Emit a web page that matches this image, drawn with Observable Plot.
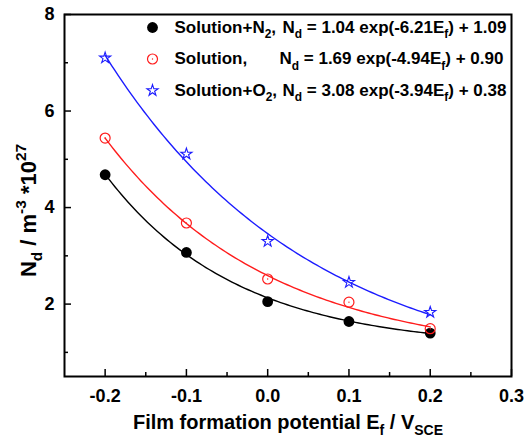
<!DOCTYPE html>
<html>
<head>
<meta charset="utf-8">
<script src="https://cdn.jsdelivr.net/npm/d3@7"></script>
<script src="https://cdn.jsdelivr.net/npm/@observablehq/plot@0.6"></script>
<style>
  html, body { margin: 0; padding: 0; background: #fff; }
  #chart { width: 528px; height: 441px; }
</style>
</head>
<body>
<div id="chart"></div>
<script>
// Film formation potential (V vs SCE) and donor density (×10^27 m^-3)
const potentials = [-0.2, -0.1, 0.0, 0.1, 0.2];
const ndN2 = [4.68, 3.07, 2.05, 1.64, 1.40];
const ndSolution = [5.44, 3.68, 2.52, 2.04, 1.49];
const ndO2 = [7.10, 5.11, 3.30, 2.45, 1.83];

// Exponential fits: Nd = a·exp(b·Ef) + c
const seriesNames = ["Solution+N_{2},", "Solution,", "Solution+O_{2},"];
const fitA = [1.04, 1.69, 3.08];
const fitB = [-6.21, -4.94, -3.94];
const fitC = [1.09, 0.90, 0.38];

const xTicks = [-0.2, -0.1, 0.0, 0.1, 0.2, 0.3];
const xMinorTicks = [-0.15, -0.05, 0.05, 0.15, 0.25];
const yTicks = [2, 4, 6, 8];
const yMinorTicks = [1, 3, 5, 7];

const W = 528, H = 441;
const margin = {top: 14, right: 17, bottom: 65, left: 64};
const plotW = W - margin.left - margin.right;
const plotH = H - margin.top - margin.bottom;
const font = "'Liberation Sans', Arial, Helvetica, sans-serif";

const colors = ["#000000", "#ff1c1c", "#1c1cff"];
const values = [ndN2, ndSolution, ndO2];

const points = values.map((vals, k) => potentials.map((e, i) => ({s: k, e, nd: vals[i]})));
const fits = fitA.map((a, k) =>
  d3.range(-0.2, 0.2 + 1e-9, 0.004).map(e => ({s: k, e, nd: a * Math.exp(fitB[k] * e) + fitC[k]}))
);
const equations = fitA.map((a, k) =>
  `N_{d} = ${a.toFixed(2)} exp(${fitB[k].toFixed(2)}E_{f}) + ${fitC[k].toFixed(2)}`
);

function markerOptions(k) {
  if (k === 0) return {symbol: "circle", r: 5.4, fill: colors[k], stroke: "none"};
  if (k === 1) return {symbol: "circle", r: 5, fill: "none", stroke: colors[k], strokeWidth: 1.2};
  return {symbol: "star", r: 3.5, fill: "none", stroke: colors[k], strokeWidth: 1.1};
}

const marks = [];
// inward tick marks
marks.push(Plot.ruleX(xTicks, {stroke: "#000", strokeWidth: 1.5, insetTop: plotH - 7}));
marks.push(Plot.ruleX(xMinorTicks, {stroke: "#000", strokeWidth: 1.5, insetTop: plotH - 4}));
marks.push(Plot.ruleY(yTicks, {stroke: "#000", strokeWidth: 1.5, insetRight: plotW - 7}));
marks.push(Plot.ruleY(yMinorTicks, {stroke: "#000", strokeWidth: 1.5, insetRight: plotW - 4}));

// fitted curves, then measured points
fits.forEach((f, k) => marks.push(Plot.line(f, {x: "e", y: "nd", stroke: colors[k], strokeWidth: 1.4})));
points.forEach((p, k) => {
  marks.push(Plot.dot(p, {x: "e", y: "nd", ...markerOptions(k)}));
  if (k === 1) marks.push(Plot.dot(p, {x: "e", y: "nd", r: 0.7, fill: colors[k]}));
});

// legend
seriesNames.forEach((name, k) => {
  const dy = 13 + k * 31.5;
  marks.push(Plot.dot([name], {frameAnchor: "top-left", dx: 88, dy, ...markerOptions(k)}));
  if (k === 1) marks.push(Plot.dot([name], {frameAnchor: "top-left", dx: 88, dy, r: 0.7, fill: colors[k]}));
  marks.push(Plot.text([name], {text: d => d, frameAnchor: "top-left", dx: 110, dy, textAnchor: "start",
    lineAnchor: "middle", fontSize: 17, fill: "#000"}));
  marks.push(Plot.text([equations[k]], {text: d => d, frameAnchor: "top-left", dx: k === 1 ? 215 : 218, dy,
    textAnchor: "start", lineAnchor: "middle", fontSize: 17, fill: "#000"}));
});

// axis titles
marks.push(Plot.text(["Film formation potential E_{f} / V_{SCE}"], {text: d => d, frameAnchor: "bottom",
  textAnchor: "middle", lineAnchor: "bottom", dy: 52, fontSize: 20, fill: "#000"}));
marks.push(Plot.text(["N_{d} / m^{-3} *10^{27}"], {text: d => d, frameAnchor: "left", rotate: -90,
  textAnchor: "middle", lineAnchor: "bottom", dx: -29, dy: 15, fontSize: 22, fill: "#000"}));

marks.push(Plot.frame({stroke: "#000", strokeWidth: 2}));

const chart = Plot.plot({
  width: W,
  height: H,
  marginTop: margin.top,
  marginRight: margin.right,
  marginBottom: margin.bottom,
  marginLeft: margin.left,
  style: {fontFamily: font, fontWeight: "bold", fontSize: "18px", color: "#000", background: "#fff", overflow: "visible"},
  x: {domain: [-0.25, 0.3], ticks: xTicks, tickFormat: d => d.toFixed(1), tickSize: 0, tickPadding: 13, label: null},
  y: {domain: [0.5, 8], ticks: yTicks, tickFormat: d => String(d), tickSize: 0, tickPadding: 10, label: null},
  marks
});

// Turn _{...} and ^{...} into sub/superscript tspans
function richText(node) {
  const s = node.textContent;
  if (!/[_^]\{/.test(s)) return;
  const parts = [];
  const re = /([_^])\{([^}]*)\}/g;
  let last = 0, m;
  while ((m = re.exec(s))) {
    if (m.index > last) parts.push({t: s.slice(last, m.index), k: ""});
    parts.push({t: m[2], k: m[1]});
    last = re.lastIndex;
  }
  if (last < s.length) parts.push({t: s.slice(last), k: ""});
  while (node.firstChild) node.removeChild(node.firstChild);
  node.setAttribute("xml:space", "preserve");
  let shift = 0;
  for (const p of parts) {
    const ts = document.createElementNS("http://www.w3.org/2000/svg", "tspan");
    const target = p.k === "_" ? 0.3 : p.k === "^" ? -0.42 : 0;
    if (p.k) {
      ts.setAttribute("font-size", "70%");
      ts.setAttribute("dy", ((target - shift) / 0.7).toFixed(3) + "em");
    } else if (target - shift !== 0) {
      ts.setAttribute("dy", (target - shift).toFixed(3) + "em");
    }
    shift = target;
    ts.textContent = p.t;
    node.appendChild(ts);
  }
}
chart.querySelectorAll("text").forEach(richText);

document.getElementById("chart").appendChild(chart);
</script>
</body>
</html>
